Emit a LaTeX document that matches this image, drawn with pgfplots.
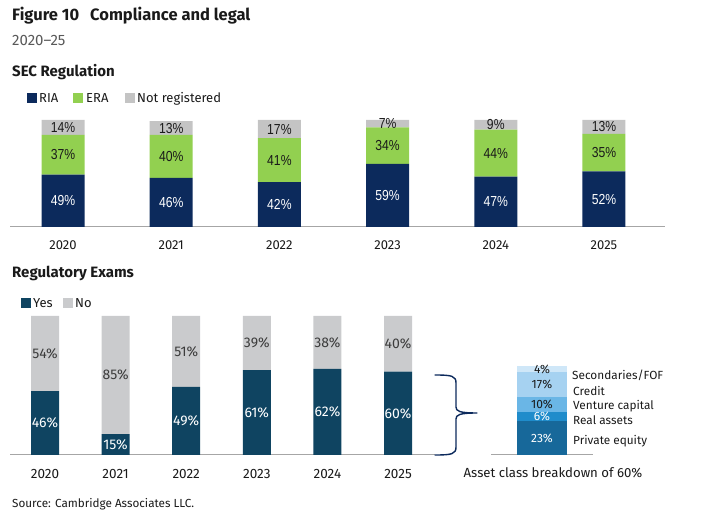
\documentclass[border=0pt]{standalone}
\usepackage{fontspec}
\setmainfont{Fira Sans}
\newfontfamily\narrowfont[FakeStretch=0.84]{Liberation Sans}
\usepackage{pgfplots}
\usepackage{pgfplotstable}
\pgfplotsset{compat=1.18}

\definecolor{ria}{HTML}{0C2A5C}
\definecolor{era}{HTML}{92D050}
\definecolor{nreg}{HTML}{C4C4C4}
\definecolor{yes}{HTML}{0F4461}
\definecolor{no}{HTML}{CACBCD}
\definecolor{pe}{HTML}{17689A}
\definecolor{ra}{HTML}{1F8CCB}
\definecolor{vc}{HTML}{6AB6E6}
\definecolor{cr}{HTML}{A6D2F1}
\definecolor{sec}{HTML}{CFE7F8}
\definecolor{axgray}{HTML}{A6A6A6}
\definecolor{txt}{HTML}{1A1A1A}
\definecolor{subtxt}{HTML}{595959}

% SEC registration status, % of respondents
\pgfplotstableread{
x RIA ERA NR
0 49 37 14
1 46 40 13
2 42 41 17
3 59 34 7
4 47 44 9
5 52 35 13
}\sectable

% Regulatory exam in the year, % of respondents
\pgfplotstableread{
x Yes No
0 46 54
1 15 85
2 49 51
3 61 39
4 62 38
5 60 40
}\examtable

% Asset class breakdown of the 60% examined in 2025
\pgfplotstableread{
x PE RA VC CR SEC
0 23 6 10 17 4
}\breaktable

\tikzset{fs/.style={font=\fontsize{#1bp}{#1bp}\selectfont},
  nfs/.style={font=\narrowfont\fontsize{#1bp}{#1bp}\selectfont}}
\pgfplotsset{
  lbl/.style={draw=none, mark=none, nodes near coords=\pgfplotspointmeta\%,
    point meta=explicit symbolic, nodes near coords align=center,
    every node near coord/.append style={anchor=center, inner sep=0pt}},
}

\begin{document}
\begin{tikzpicture}
\path[use as bounding box] (0,0) rectangle (727bp,520bp);

% ---------- SEC Regulation ----------
\pgfplotsset{secgeom/.style={at={(10bp,293bp)}, anchor=south west, scale only axis,
  width=655bp, height=107bp, xmin=-0.49, xmax=5.564, ymin=0, ymax=100, clip=false}}
\begin{axis}[secgeom, ybar stacked, bar width=43bp,
  axis x line*=bottom, axis y line=none,
  x axis line style={draw=axgray, line width=1bp},
  xtick={0,...,5}, xticklabels={2020,2021,2022,2023,2024,2025},
  major tick length=0pt,
  xticklabel style={anchor=north, inner sep=0pt, yshift=-13bp, text=txt, fs=13}]
\addplot[fill=ria, draw=none] table[x=x, y=RIA]{\sectable};
\addplot[fill=era, draw=none] table[x=x, y=ERA]{\sectable};
\addplot[fill=nreg, draw=none] table[x=x, y=NR]{\sectable};
\end{axis}
\begin{axis}[secgeom, hide axis]
\addplot[lbl, every node near coord/.append style={text=white, nfs=14.5}]
  table[x=x, y expr=\thisrow{RIA}/2, meta=RIA]{\sectable};
\addplot[lbl, every node near coord/.append style={text=txt, nfs=14.5}]
  table[x=x, y expr=\thisrow{RIA}+\thisrow{ERA}/2, meta=ERA]{\sectable};
\addplot[lbl, every node near coord/.append style={text=txt, nfs=14.5}]
  table[x=x, y expr=\thisrow{RIA}+\thisrow{ERA}+\thisrow{NR}/2, meta=NR]{\sectable};
\end{axis}

% ---------- Regulatory Exams ----------
\pgfplotsset{examgeom/.style={at={(10bp,65bp)}, anchor=south west, scale only axis,
  width=425bp, height=139bp, xmin=-0.496, xmax=5.524, ymin=0, ymax=100, clip=false}}
\begin{axis}[examgeom, ybar stacked, bar width=28bp,
  axis x line*=bottom, axis y line=none,
  x axis line style={draw=axgray, line width=1bp},
  xtick={0,...,5}, xticklabels={2020,2021,2022,2023,2024,2025},
  major tick length=0pt,
  xticklabel style={anchor=north, inner sep=0pt, yshift=-14bp, text=txt, fs=13.5}]
\addplot[fill=yes, draw=none] table[x=x, y=Yes]{\examtable};
\addplot[fill=no, draw=none] table[x=x, y=No]{\examtable};
\end{axis}
\begin{axis}[examgeom, hide axis]
\addplot[lbl, every node near coord/.append style={text=white, fs=14}]
  table[x=x, y expr=\thisrow{Yes}/2, meta=Yes]{\examtable};
\addplot[lbl, every node near coord/.append style={text=txt!85, fs=14}]
  table[x=x, y expr=\thisrow{Yes}+\thisrow{No}/2, meta=No]{\examtable};
\end{axis}

% ---------- Asset class breakdown ----------
\pgfplotsset{brkgeom/.style={at={(491bp,65bp)}, anchor=south west, scale only axis,
  width=102bp, height=89bp, xmin=-1, xmax=1, ymin=0, ymax=60, clip=false}}
\begin{axis}[brkgeom, ybar stacked, bar width=50bp,
  axis x line*=bottom, axis y line=none,
  x axis line style={draw=axgray, line width=1bp}, xtick=\empty]
\addplot[fill=pe, draw=none] table[x=x, y=PE]{\breaktable};
\addplot[fill=ra, draw=none] table[x=x, y=RA]{\breaktable};
\addplot[fill=vc, draw=none] table[x=x, y=VC]{\breaktable};
\addplot[fill=cr, draw=none] table[x=x, y=CR]{\breaktable};
\addplot[fill=sec, draw=none] table[x=x, y=SEC]{\breaktable};
\end{axis}
\begin{axis}[brkgeom, hide axis]
\addplot[lbl, every node near coord/.append style={text=white, fs=12}]
  table[x=x, y expr=\thisrow{PE}/2, meta=PE]{\breaktable};
\addplot[lbl, every node near coord/.append style={text=white, fs=12}]
  table[x=x, y expr=\thisrow{PE}+\thisrow{RA}/2, meta=RA]{\breaktable};
\addplot[lbl, every node near coord/.append style={text=txt, fs=12}]
  table[x=x, y expr=\thisrow{PE}+\thisrow{RA}+\thisrow{VC}/2, meta=VC]{\breaktable};
\addplot[lbl, every node near coord/.append style={text=txt, fs=12}]
  table[x=x, y expr=\thisrow{PE}+\thisrow{RA}+\thisrow{VC}+\thisrow{CR}/2, meta=CR]{\breaktable};
\addplot[lbl, every node near coord/.append style={text=txt, fs=12}]
  table[x=x, y expr=\thisrow{PE}+\thisrow{RA}+\thisrow{VC}+\thisrow{CR}+\thisrow{SEC}/2, meta=SEC]{\breaktable};
\end{axis}

% ---------- titles, legends, notes (y measured downward from the top) ----------
\begin{scope}[shift={(0,520bp)}, yscale=-1]
\node[anchor=base west, inner sep=0pt, text=txt, font=\bfseries\fontsize{16.5bp}{16.5bp}\selectfont]
  at (12bp,21bp) {Figure 10\hspace{11bp}Compliance and legal};
\node[anchor=base west, inner sep=0pt, text=subtxt, font=\fontsize{15bp}{15bp}\selectfont]
  at (12bp,46bp) {2020--25};
\node[anchor=base west, inner sep=0pt, text=txt, font=\bfseries\fontsize{15bp}{15bp}\selectfont]
  at (12bp,77bp) {SEC Regulation};

% legend: SEC Regulation
\fill[ria] (27bp,93bp) rectangle (37bp,103bp);
\node[anchor=base west, inner sep=0pt, text=txt, font=\fontsize{13bp}{13bp}\selectfont] at (39bp,102.5bp) {RIA};
\fill[era] (73bp,93bp) rectangle (83bp,103bp);
\node[anchor=base west, inner sep=0pt, text=txt, font=\fontsize{13bp}{13bp}\selectfont] at (86bp,102.5bp) {ERA};
\fill[nreg] (125bp,93bp) rectangle (135bp,103bp);
\node[anchor=base west, inner sep=0pt, text=txt, font=\fontsize{13bp}{13bp}\selectfont] at (137bp,102.5bp) {Not registered};

\node[anchor=base west, inner sep=0pt, text=txt, font=\bfseries\fontsize{15bp}{15bp}\selectfont]
  at (12bp,278bp) {Regulatory Exams};

% legend: Regulatory Exams
\fill[yes] (21bp,298bp) rectangle (31bp,308bp);
\node[anchor=base west, inner sep=0pt, text=txt, font=\fontsize{13bp}{13bp}\selectfont] at (33bp,308bp) {Yes};
\fill[no] (63bp,298bp) rectangle (73bp,308bp);
\node[anchor=base west, inner sep=0pt, text=txt, font=\fontsize{13bp}{13bp}\selectfont] at (75bp,308bp) {No};

% brace linking the 2025 share to its breakdown
\draw[ria, line width=1.4bp, line cap=round, line join=round]
  (435bp,375bp) .. controls (452bp,375bp) and (456bp,376bp) .. (456bp,383bp)
  -- (456bp,407bp) .. controls (456bp,411bp) and (459bp,413bp) .. (477bp,413bp)
  (477bp,413bp) .. controls (459bp,413bp) and (456bp,415bp) .. (456bp,419bp)
  -- (456bp,447bp) .. controls (456bp,454bp) and (452bp,455bp) .. (435bp,455bp);

% breakdown category names
\begin{scope}[every node/.style={anchor=west, inner sep=0pt, text=txt, font=\fontsize{11.8bp}{11.8bp}\selectfont}]
\node at (572bp,375bp) {Secondaries/FOF};
\node at (573bp,391bp) {Credit};
\node at (573bp,406bp) {Venture capital};
\node at (573bp,420bp) {Real assets};
\node at (573bp,441bp) {Private equity};
\end{scope}
\node[anchor=center, inner sep=0pt, text=txt, font=\fontsize{13.2bp}{13.2bp}\selectfont]
  at (553bp,473bp) {Asset class breakdown of 60\%};

\node[anchor=base west, inner sep=0pt, text=txt, font=\fontsize{11.7bp}{11.7bp}\selectfont]
  at (12bp,507bp) {Source: Cambridge Associates LLC.};
\end{scope}
\end{tikzpicture}
\end{document}
